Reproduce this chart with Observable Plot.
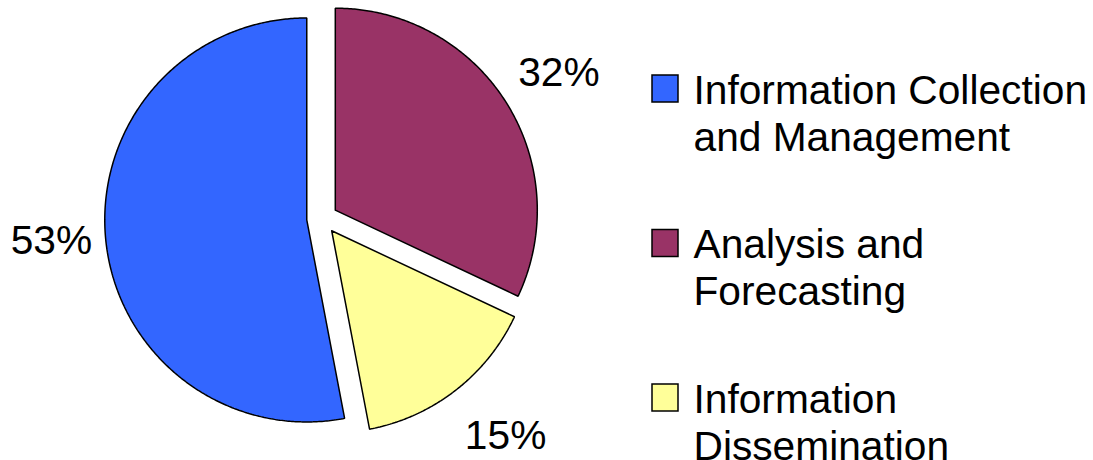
<!DOCTYPE html>
<html><head><meta charset="utf-8">
<script src="https://cdn.jsdelivr.net/npm/d3@7"></script>
<script src="https://cdn.jsdelivr.net/npm/@observablehq/plot@0.6"></script>
<style>html,body{margin:0;padding:0;background:#fff} svg{display:block}</style>
</head><body><div id="chart"></div>
<script>
const categories = ["Information Collection and Management", "Analysis and Forecasting", "Information Dissemination"];
const shares = [53, 32, 15];
const colors = ["#3366FF", "#993366", "#FFFF99"];
const legendLines = [["Information Collection", "and Management"], ["Analysis and", "Forecasting"], ["Information", "Dissemination"]];
const labels = ["53%", "32%", "15%"];
const pieOrder = [1, 2, 0]; // clockwise from 12 o'clock

const W = 1093, H = 460;
const cx = 321.7, cy = 218, R = 202, explode = 15.5, labelR = 278;
const FS = 40.7;
// small label nudges (layout only), like the reference's best-fit label placement
const labelNudge = [[6, -4], [2, 3], [13, -2]];

const total = d3.sum(shares);
let acc = 0;
const slices = pieOrder.map(i => {
  const a0 = acc / total * 2 * Math.PI;
  acc += shares[i];
  const a1 = acc / total * 2 * Math.PI;
  const mid = (a0 + a1) / 2;
  return {i, a0, a1, mid, ox: cx + explode * Math.sin(mid), oy: cy - explode * Math.cos(mid)};
});

const slicePts = [];
for (const s of slices) {
  const cat = categories[s.i];
  const n = Math.max(2, Math.ceil((s.a1 - s.a0) / (Math.PI / 360)));
  slicePts.push({cat, x: s.ox, y: s.oy});
  for (let k = 0; k <= n; k++) {
    const a = s.a0 + (s.a1 - s.a0) * k / n;
    slicePts.push({cat, x: s.ox + R * Math.sin(a), y: s.oy - R * Math.cos(a)});
  }
  slicePts.push({cat, x: s.ox, y: s.oy});
}

const labelPts = slices.map(s => ({
  x: cx + labelR * Math.sin(s.mid) + labelNudge[s.i][0],
  y: cy - labelR * Math.cos(s.mid) + labelNudge[s.i][1],
  text: labels[s.i]
}));

const legendTop = 75, legendStep = 154.5, lineStep = 47;
const legendBoxes = categories.map((cat, i) => ({cat, x1: 652, x2: 678, y1: legendTop + i * legendStep, y2: legendTop + 27 + i * legendStep}));
const legendText = [];
legendLines.forEach((lines, i) => lines.forEach((t, j) => legendText.push({x: 693, y: legendTop + 28 + i * legendStep + j * lineStep, text: t})));

const chart = Plot.plot({
  width: W, height: H, margin: 0,
  x: {domain: [0, W], range: [0, W], axis: null},
  y: {domain: [0, H], range: [0, H], axis: null},
  color: {domain: categories, range: colors},
  style: {fontFamily: "'Liberation Sans', Arial, sans-serif", background: "white"},
  marks: [
    Plot.line(slicePts, {x: "x", y: "y", z: "cat", fill: "cat", stroke: "black", strokeWidth: 1.5, strokeLinejoin: "miter"}),
    Plot.text(labelPts, {x: "x", y: "y", text: "text", fontSize: FS, fill: "black", textAnchor: "middle", lineAnchor: "middle"}),
    Plot.rect(legendBoxes, {x1: "x1", x2: "x2", y1: "y1", y2: "y2", fill: "cat", stroke: "black", strokeWidth: 1.5}),
    Plot.text(legendText, {x: "x", y: "y", text: "text", fontSize: FS, fill: "black", textAnchor: "start", lineAnchor: "bottom"})
  ]
});
document.getElementById("chart").appendChild(chart);
</script>
</body></html>
